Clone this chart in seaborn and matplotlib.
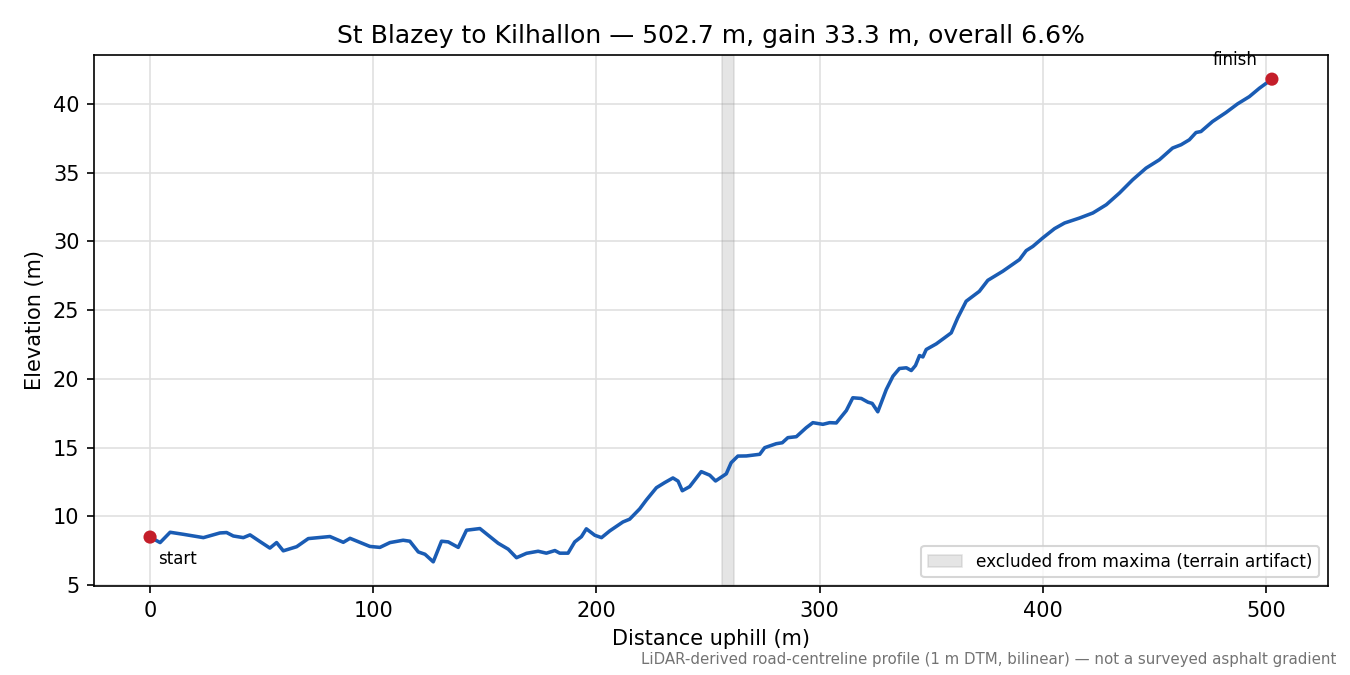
import matplotlib
matplotlib.use("Agg")
import matplotlib.pyplot as plt
import seaborn as sns
import pandas as pd

distance_m = [0, 4.5, 9, 15, 23.9, 31.3, 34.3, 37.3, 41.8, 44.8,
              49.3, 53.7, 56.7, 59.7, 65.7, 70.9, 80.6, 86.6, 89.6, 98.5,
              103, 107.5, 113.4, 116.4, 120.2, 123.2, 126.9, 130.6, 133.6, 138.1,
              141.8, 147.8, 156, 160.5, 164.2, 168.7, 173.9, 177.6, 181.4, 183.6,
              187.3, 190.3, 193.3, 195.5, 199.3, 202.3, 206, 211.9, 214.9, 219.4,
              222.4, 226.9, 230.6, 234.3, 236.6, 238.5, 241.8, 247, 250.8, 253.4,
              258.2, 260.4, 263.4, 267.2, 273.2, 275.4, 280.6, 283.3, 285.8, 289.6,
              294, 297, 301.5, 304.5, 307.5, 312, 314.9, 318.7, 321.7, 323.6,
              326.1, 329.9, 332.9, 335.8, 338.9, 341.1, 343, 344.8, 346.3, 347.8,
              352.3, 356, 359, 361.9, 365.7, 371.6, 375.4, 382.1, 389.6, 392.6,
              395.6, 400, 405.3, 409.8, 416.5, 422.5, 428.5, 434.4, 440.3, 446.3,
              452.3, 458.2, 462, 465.7, 468.7, 470.9, 476.1, 482.1, 487.3, 492.6,
              497.1, 502.7]
elevation_m = [8.5, 8.1, 8.85, 8.7, 8.46, 8.8, 8.83, 8.58, 8.46, 8.66,
               8.17, 7.7, 8.1, 7.5, 7.8, 8.39, 8.54, 8.12, 8.41, 7.82,
               7.75, 8.1, 8.27, 8.2, 7.42, 7.25, 6.7, 8.2, 8.15, 7.75,
               9.0, 9.12, 8.05, 7.62, 7.0, 7.32, 7.47, 7.33, 7.52, 7.33,
               7.33, 8.15, 8.53, 9.1, 8.63, 8.46, 8.95, 9.6, 9.8, 10.55,
               11.2, 12.09, 12.46, 12.8, 12.57, 11.87, 12.17, 13.26, 13.0, 12.58,
               13.1, 13.91, 14.39, 14.4, 14.52, 15.0, 15.29, 15.36, 15.73, 15.8,
               16.45, 16.82, 16.7, 16.82, 16.8, 17.7, 18.63, 18.58, 18.31, 18.22,
               17.61, 19.23, 20.2, 20.76, 20.81, 20.61, 20.98, 21.7, 21.6, 22.14,
               22.55, 22.99, 23.35, 24.44, 25.65, 26.37, 27.17, 27.83, 28.68, 29.33,
               29.64, 30.25, 30.93, 31.34, 31.7, 32.07, 32.67, 33.52, 34.48, 35.33,
               35.94, 36.79, 37.03, 37.39, 37.92, 37.99, 38.72, 39.37, 40.0, 40.53,
               41.14, 41.8]

excluded_start = 256.5
excluded_end = 261.5

title = "St Blazey to Kilhallon — 502.7 m, gain 33.3 m, overall 6.6%"
footnote = "LiDAR-derived road-centreline profile (1 m DTM, bilinear) — not a surveyed asphalt gradient"

df = pd.DataFrame({"d": distance_m, "e": elevation_m})

fig, ax = plt.subplots(figsize=(9, 4.5), dpi=150)
fig.subplots_adjust(left=0.0696, right=0.9837, top=0.9185, bottom=0.1319)

ax.axvspan(excluded_start, excluded_end, color="0.6", alpha=0.25, lw=0.8,
           label="excluded from maxima (terrain artifact)", zorder=1)
sns.lineplot(data=df, x="d", y="e", ax=ax, color="#1a5cb4", lw=1.7, zorder=3)

ends = df.iloc[[0, -1]]
sns.scatterplot(data=ends, x="d", y="e", ax=ax, color="#c41e2a", s=40,
                edgecolor="none", zorder=4, legend=False)
ax.annotate("start", (df.d.iloc[0], df.e.iloc[0]), xytext=(4, -6),
            textcoords="offset points", ha="left", va="top", fontsize=8)
ax.annotate("finish", (df.d.iloc[-1], df.e.iloc[-1]), xytext=(-7, 5),
            textcoords="offset points", ha="right", va="bottom", fontsize=8)

ax.grid(True, color="0.88", lw=0.8)
ax.set_axisbelow(True)
ax.set_title(title, fontsize=12)
ax.set_xlabel("Distance uphill (m)", fontsize=10)
ax.set_ylabel("Elevation (m)", fontsize=10)
ax.legend(loc="lower right", fontsize=8.2)
fig.text(0.99, 0.012, footnote, ha="right", va="bottom", fontsize=7.2, color="0.45")

fig.savefig("out.png", dpi=150)
